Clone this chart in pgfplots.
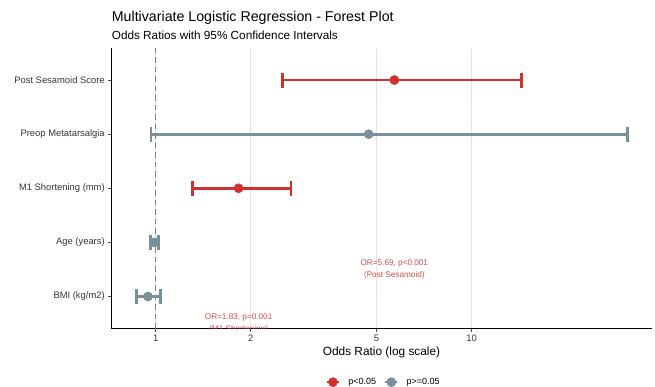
\documentclass[border=0pt]{standalone}
\usepackage{fontspec}
\setmainfont{Liberation Sans}
\usepackage{pgfplots}
\pgfplotsset{compat=1.18}
\definecolor{sigred}{HTML}{D32F2F}
\definecolor{nsgray}{HTML}{78909C}
\definecolor{gridc}{HTML}{E4E4E4}
\definecolor{ticktext}{HTML}{4D4D4D}
\definecolor{refline}{HTML}{7F7F7F}
\begin{document}
\begin{tikzpicture}[x=1pt,y=1pt]
\useasboundingbox (0,0) rectangle (655,387);
\node[anchor=base west, inner sep=0pt, font=\fontsize{14.2}{16}\selectfont] at (111.7,365.2) {Multivariate Logistic Regression - Forest Plot};
\node[anchor=base west, inner sep=0pt, font=\fontsize{11.75}{14}\selectfont] at (111.7,347.8) {Odds Ratios with 95\% Confidence Intervals};
\begin{axis}[
  at={(111pt,58pt)}, anchor=south west,
  width=541pt, height=281.4pt, scale only axis,
  xmode=log, xmin=0.722, xmax=37.2, ymin=0.4, ymax=5.6,
  axis lines*=left, axis line style={black, line width=1pt},
  xtick={1,2,5,10}, xticklabels={1,2,5,10},
  minor xtick={}, minor tick length=0pt,
  ytick={1,2,3,4,5},
  yticklabels={BMI (kg/m2), Age (years), M1 Shortening (mm), Preop Metatarsalgia, Post Sesamoid Score},
  tick align=outside, major tick length=2.75pt,
  tick style={color=ticktext, line width=0.7pt},
  xmajorgrids, major grid style={gridc, line width=0.9pt},
  ticklabel style={font=\fontsize{9.4}{11}\selectfont, text=ticktext!70!black},
  /pgf/number format/assume math mode=true,
  xlabel={Odds Ratio (log scale)},
  xlabel style={font=\fontsize{11.86}{14}\selectfont, at={(axis description cs:0.5,0)}, anchor=base, yshift=-26.25pt},
  legend columns=2,
  legend style={at={(axis description cs:0.504,-0.189)}, anchor=center, draw=none, fill=none,
    font=\fontsize{9}{10}\selectfont, column sep=6pt, inner sep=0pt},
  legend image code/.code={\draw[line width=2.6pt] (0pt,0pt) -- (12pt,0pt); \fill (6pt,0pt) circle (4.6pt);},
]
\addlegendimage{sigred}
\addlegendentry{p<0.05}
\addlegendimage{nsgray}
\addlegendentry{p>=0.05}
\addplot[forget plot, refline, line width=1.5pt, dash pattern=on 5.5pt off 4pt] coordinates {(1,0.4) (1,5.6)};
% 95% CIs (lower, upper)
\addplot[forget plot, sigred, line width=2.7pt, mark=|, mark size=7.5pt] coordinates {(2.515,5) (14.4,5)};
\addplot[forget plot, nsgray, line width=2.7pt, mark=|, mark size=7.5pt] coordinates {(0.966,4) (31.1,4)};
\addplot[forget plot, sigred, line width=2.7pt, mark=|, mark size=7.5pt] coordinates {(1.31,3) (2.68,3)};
\addplot[forget plot, nsgray, line width=2.7pt, mark=|, mark size=7.5pt] coordinates {(0.964,2) (1.02,2)};
\addplot[forget plot, nsgray, line width=2.7pt, mark=|, mark size=7.5pt] coordinates {(0.868,1) (1.034,1)};
% odds ratios
\addplot[forget plot, only marks, mark=*, mark size=4.6pt, sigred] coordinates {(5.69,5) (1.83,3)};
\addplot[forget plot, only marks, mark=*, mark size=4.6pt, nsgray] coordinates {(4.72,4) (0.99,2) (0.945,1)};
\node[text=sigred!85!white, font=\fontsize{8.2}{12.7}\selectfont, align=center] at (axis cs:5.69,1.5) {OR=5.69, p<0.001\\(Post Sesamoid)};
\node[text=sigred!85!white, font=\fontsize{8.2}{12.7}\selectfont, align=center] at (axis cs:1.83,0.5) {OR=1.83, p=0.001\\(M1 Shortening)};
\end{axis}
\end{tikzpicture}
\end{document}
